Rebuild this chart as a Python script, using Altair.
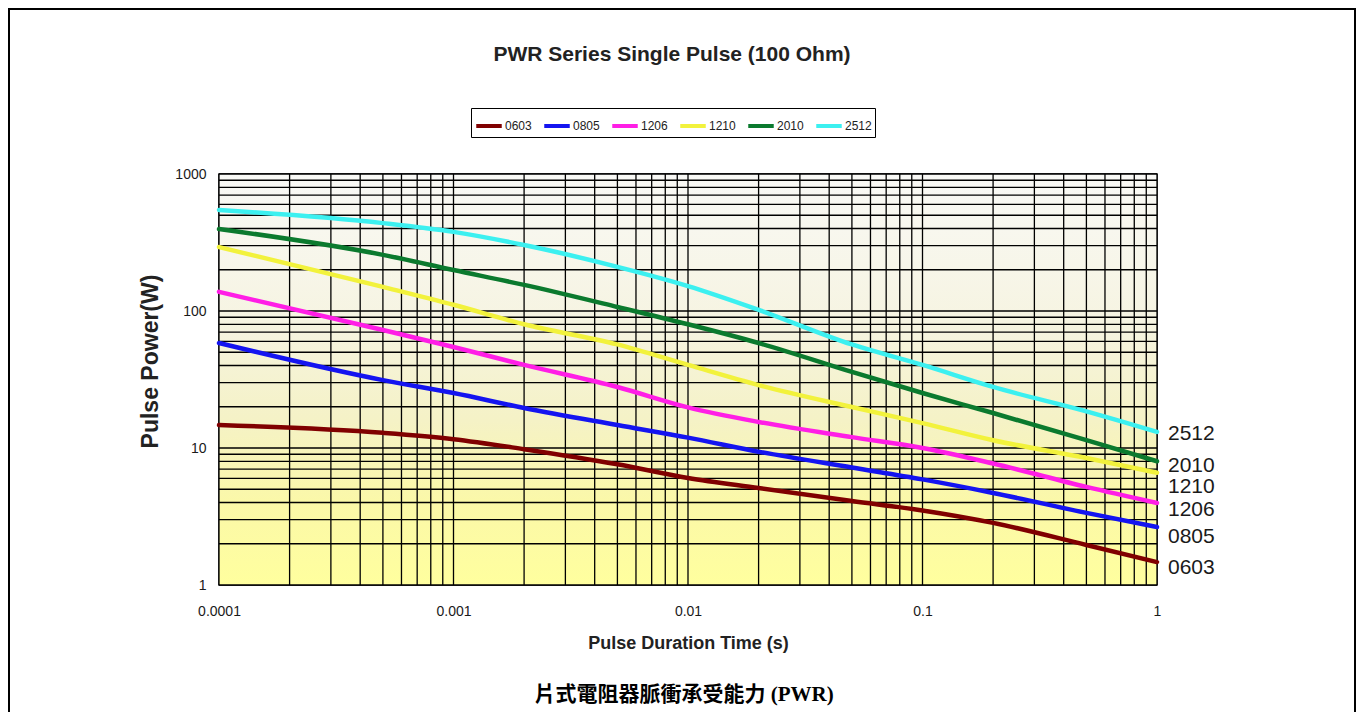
import altair as alt
import pandas as pd

# ---- data ----
durations = [0.0001, 0.0005, 0.001, 0.002, 0.005, 0.01, 0.02, 0.05, 0.1, 0.2, 0.5, 1]
p0603 = [14.7, 12.9, 11.6, 9.8, 7.6, 6.04, 5.1, 4.1, 3.5, 2.84, 1.96, 1.47]
p0805 = [58.4, 31.3, 25.2, 19.6, 14.7, 11.9, 9.4, 7.2, 5.9, 4.7, 3.36, 2.65]
p1206 = [138, 72.6, 54.6, 40.4, 27.9, 19.8, 15.5, 12.0, 10.0, 7.7, 5.2, 3.97]
p1210 = [293, 150, 111, 80, 57, 40.4, 28.8, 19.9, 15.2, 11.4, 8.45, 6.6]
p2010 = [397, 257, 199, 155, 107, 80, 58.4, 35.9, 25.2, 18.0, 11.4, 8.0]
p2512 = [546, 438, 378, 303, 210, 152, 102, 57, 40.4, 27.9, 18.5, 13.1]

series_names = ["0603", "0805", "1206", "1210", "2010", "2512"]
series_colors = ["#800000", "#1414F0", "#FF1EE6", "#F2F23C", "#0B7A2E", "#3CF0F0"]
end_label_y = [1.33, 2.24, 3.52, 5.2, 7.4, 12.6]

x_decades = [0.0001, 0.001, 0.01, 0.1, 1]
y_decades = [1, 10, 100, 1000]
mantissas = [1, 2, 3, 4, 5, 6, 7, 8, 9]

chart_title = "PWR Series Single Pulse (100 Ohm)"
caption = "片式電阻器脈衝承受能力 (PWR)"
x_title = "Pulse Duration Time (s)"
y_title = "Pulse Power(W)"

# ---- tables ----
all_series = [p0603, p0805, p1206, p1210, p2010, p2512]
rows = []
for name, vals in zip(series_names, all_series):
    for t, p in zip(durations, vals):
        rows.append({"series": name, "t": t, "p": p})
df = pd.DataFrame(rows)
lab_df = pd.DataFrame({"series": series_names, "t": [durations[-1]] * 6, "p": end_label_y})

x_grid = [m * d for d in x_decades[:-1] for m in mantissas] + [x_decades[-1]]
y_grid = [m * d for d in y_decades[:-1] for m in mantissas] + [y_decades[-1]]

W, H = 938, 411
FONT = "Liberation Sans, Arial, sans-serif"

x_scale = alt.Scale(type="log", domain=[x_decades[0], x_decades[-1]], nice=False)
y_scale = alt.Scale(type="log", domain=[y_decades[0], y_decades[-1]], nice=False)

x_axis = alt.Axis(
    values=x_grid, grid=False, ticks=False, domain=False,
    labelExpr="indexof(%s, datum.value) >= 0 ? '' + datum.value : ''" % str(x_decades),
    labelFont=FONT, labelFontSize=14, labelColor="#1a1a1a", labelPadding=19,
    labelFlush=False, labelOverlap=False,
    title=x_title, titleFont=FONT, titleFontSize=18, titleFontWeight="bold",
    titleColor="#222", titlePadding=16,
)
y_axis = alt.Axis(
    values=y_grid, grid=False, ticks=False, domain=False,
    labelExpr="indexof(%s, datum.value) >= 0 ? '' + datum.value : ''" % str(y_decades),
    labelFont=FONT, labelFontSize=14, labelColor="#1a1a1a", labelPadding=13,
    labelFlush=False, labelOverlap=False,
    title=y_title, titleFont=FONT, titleFontSize=23, titleFontWeight="bold",
    titleColor="#222", titlePadding=12, titleY=187,
)

bg_df = pd.DataFrame({"k": [0]})
background = alt.Chart(bg_df).mark_rect(
    color=alt.LinearGradient(
        gradient="linear", x1=0, y1=0, x2=0, y2=1,
        stops=[
            alt.GradientStop(offset=0, color="#F9F9F6"),
            alt.GradientStop(offset=0.35, color="#F6F4E2"),
            alt.GradientStop(offset=0.6, color="#F5F2C6"),
            alt.GradientStop(offset=0.8, color="#FBF8A8"),
            alt.GradientStop(offset=1, color="#FFFF9E"),
        ],
    )
).encode(x=alt.value(0), x2=alt.value(W), y=alt.value(0), y2=alt.value(H))

xgrid_rules = alt.Chart(pd.DataFrame({"t": x_grid})).mark_rule(color="black", strokeWidth=1.3).encode(
    x=alt.X("t:Q", scale=x_scale, axis=x_axis)
)
ygrid_rules = alt.Chart(pd.DataFrame({"p": y_grid})).mark_rule(color="black", strokeWidth=1.3).encode(
    y=alt.Y("p:Q", scale=y_scale, axis=y_axis)
)

lines = alt.Chart(df).mark_line(strokeWidth=4.5, interpolate="monotone", strokeCap="round").encode(
    x=alt.X("t:Q", scale=x_scale, axis=x_axis),
    y=alt.Y("p:Q", scale=y_scale, axis=y_axis),
    color=alt.Color(
        "series:N",
        scale=alt.Scale(domain=series_names, range=series_colors),
        legend=alt.Legend(
            orient="none", legendX=252, legendY=-66, direction="horizontal", title=None,
            symbolType="stroke", symbolStrokeWidth=4, symbolSize=650,
            labelFont=FONT, labelFontSize=12, labelColor="#222", labelOffset=1,
            strokeColor="black", fillColor="white", padding=3, columnPadding=4,
        ),
    ),
    order=alt.Order("t:Q"),
)

end_labels = alt.Chart(lab_df).mark_text(
    align="left", baseline="middle", dx=11, fontSize=21, font=FONT, color="#1a1a1a"
).encode(
    x=alt.X("t:Q", scale=x_scale),
    y=alt.Y("p:Q", scale=y_scale),
    text="series:N",
)

title_df = pd.DataFrame({"txt": [chart_title]})
title_mark = alt.Chart(title_df).mark_text(
    align="center", baseline="middle", fontSize=21, fontWeight="bold", font=FONT, color="#222"
).encode(x=alt.value(453), y=alt.value(-119), text="txt:N")

cap_df = pd.DataFrame({"txt": [caption]})
cap_mark = alt.Chart(cap_df).mark_text(
    align="center", baseline="middle", fontSize=21, fontWeight="bold",
    font="Liberation Serif, Noto Sans CJK TC, serif", color="black"
).encode(x=alt.value(465), y=alt.value(521), text="txt:N")

frame_df = pd.DataFrame({"k": [0]})
frame = alt.Chart(frame_df).mark_rect(filled=False, stroke="black", strokeWidth=2).encode(
    x=alt.value(-210), x2=alt.value(1136), y=alt.value(-165), y2=alt.value(700)
)

chart = alt.layer(
    frame, background, xgrid_rules, ygrid_rules, lines, end_labels, title_mark, cap_mark
).properties(
    width=W, height=H,
    autosize=alt.AutoSizeParams(type="none"),
    padding={"left": 211, "top": 166, "right": 200, "bottom": 127},
    background="white",
).configure_view(stroke="black", strokeWidth=1.5)

chart.save("out.html", embed_options={"renderer": "svg", "actions": False})
